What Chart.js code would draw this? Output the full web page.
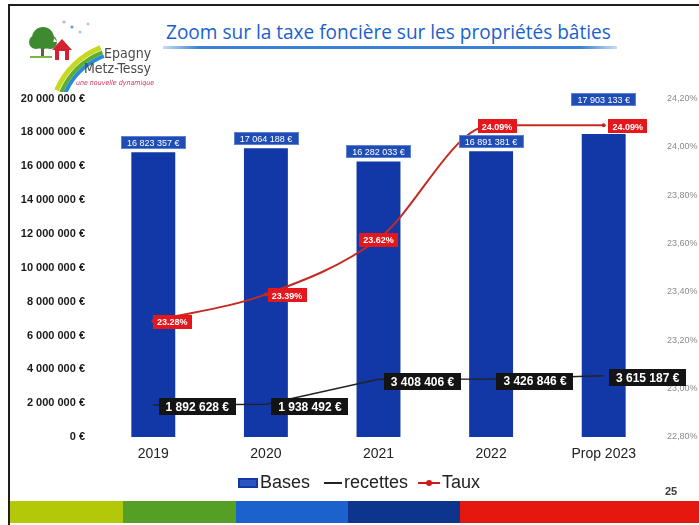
<!DOCTYPE html>
<html>
<head>
<meta charset="utf-8">
<script src="https://cdn.jsdelivr.net/npm/chart.js@4.4.0/dist/chart.umd.min.js"></script>
<style>
html, body { margin: 0; padding: 0; background: #fff; }
body { width: 699px; height: 525px; position: relative; overflow: hidden; font-family: "Liberation Sans", Arial, sans-serif; }
#logo { position: absolute; left: 0; top: 0; }
.logo-txt { position: absolute; font-family: "DejaVu Sans Condensed", "DejaVu Sans", sans-serif; color: #4a4a4a; white-space: nowrap; }
#frame-left { position: absolute; left: 8px; top: 4px; width: 2px; height: 521px; background: #1e1e1e; z-index: 5; }
#frame-top { position: absolute; left: 8px; top: 4px; width: 691px; height: 2px; background: #1e1e1e; z-index: 5; }
#title { position: absolute; left: 166px; top: 19px; font-family: "Open Sans", sans-serif; font-size: 18px; color: #1a5fd0; white-space: nowrap; }
#rule { position: absolute; left: 163px; top: 46px; width: 454px; height: 3px;
  background: linear-gradient(to right, rgba(70,140,215,0.3), #3b82d2 8%, #3b82d2 92%, rgba(70,140,215,0.3)); }
#chart-box { position: absolute; left: 0; top: 80px; width: 699px; height: 430px; }
#band { position: absolute; left: 10px; top: 501px; width: 689px; height: 22px; display: flex; z-index: 4; }
#band div { height: 100%; }
#page-no { position: absolute; left: 665px; top: 485px; font: bold 11px "Liberation Sans", Arial, sans-serif; color: #3a3a3a; }
</style>
</head>
<body>
<canvas id="logo" width="165" height="92"></canvas>
<div class="logo-txt" style="left:104px; top:45px; font-size:14px;">Epagny</div>
<div class="logo-txt" style="left:84px; top:60px; font-size:14px;">Metz-Tessy</div>
<div class="logo-txt" style="left:76px; top:79px; font-size:7px; font-style:italic; color:#d0305a;">une nouvelle dynamique</div>
<div id="frame-left"></div>
<div id="frame-top"></div>
<div id="title">Zoom sur la taxe foncière sur les propriétés bâties</div>
<div id="rule"></div>
<div id="chart-box"><canvas id="chart" width="699" height="430"></canvas></div>
<div id="band">
  <div style="width:113px; background:#b4c80a;"></div>
  <div style="width:113px; background:#55a024;"></div>
  <div style="width:112px; background:#1c62cc;"></div>
  <div style="width:112px; background:#0e358e;"></div>
  <div style="flex:1; background:#e5180f;"></div>
</div>
<div id="page-no">25</div>
<script>
// data
var categories = ["2019", "2020", "2021", "2022", "Prop 2023"];
var bases = [16823357, 17064188, 16282033, 16891381, 17903133];
var recettes = [1892628, 1938492, 3408406, 3426846, 3615187];
var taux = [23.28, 23.39, 23.62, 24.09, 24.09];

// axis ranges
var leftMin = 0, leftMax = 20000000, leftStep = 2000000;
var rightMin = 22.8, rightMax = 24.2, rightStep = 0.2;

// label placement (px)
var basesLift = [10, 10, 10, 10, 35];
var tauxShift = [19, 21, 0, 6, 24];
var recettesShift = 44;

var blue = "#1238a8";
var red = "#c42a22";

function euro(v) {
	return String(v).replace(/\B(?=(\d{3})+(?!\d))/g, " ") + " €";
}

// fit title to its width
(function () {
	var t = document.getElementById("title");
	var w = t.getBoundingClientRect().width;
	t.style.fontSize = (18 * 445 / w).toFixed(2) + "px";
})();

// logo
(function () {
	var c = document.getElementById("logo").getContext("2d");
	// rainbow
	var arcs = [["#c8d820", 5], ["#5cae2c", 4], ["#2a8ad8", 4]];
	var r = 80;
	arcs.forEach(function (a) {
		c.beginPath();
		c.strokeStyle = a[0];
		c.lineWidth = a[1];
		c.arc(130, 122, r, Math.PI * 1.13, Math.PI * 1.38);
		c.stroke();
		r -= a[1];
	});
	// tree
	c.fillStyle = "#6f5a3a";
	c.fillRect(41, 44, 3, 14);
	c.fillStyle = "#3f8a2e";
	c.beginPath();
	c.arc(43, 38, 11, 0, Math.PI * 2);
	c.arc(36, 42, 7, 0, Math.PI * 2);
	c.arc(50, 42, 7, 0, Math.PI * 2);
	c.fill();
	c.fillStyle = "#7ab648";
	c.fillRect(30, 56, 22, 2);
	// house
	c.fillStyle = "#d42030";
	c.beginPath();
	c.moveTo(52, 50); c.lineTo(62, 39); c.lineTo(72, 50); c.closePath();
	c.fill();
	c.fillRect(55, 49, 14, 11);
	c.fillStyle = "#fff";
	c.fillRect(59, 51, 6, 9);
	// dots
	[["#5aa8e0", 72, 27], ["#b0b8c0", 64, 22], ["#9fd0f0", 80, 32], ["#c8c8c8", 88, 24]].forEach(function (d) {
		c.fillStyle = d[0];
		c.beginPath();
		c.arc(d[1], d[2], 1.6, 0, Math.PI * 2);
		c.fill();
	});
})();

// legend icons: content right-aligned so it sits close to the text
function icon(w, draw) {
	var cv = document.createElement("canvas");
	cv.width = 26; cv.height = 12;
	var c = cv.getContext("2d");
	draw(c, 26 - w);
	return cv;
}
var icons = [
	icon(20, function (c, x) { c.fillStyle = blue; c.fillRect(x, 1, 20, 10); c.fillStyle = "#2a56c0"; c.fillRect(x + 2, 3, 16, 6); }),
	icon(18, function (c, x) { c.fillStyle = "#222"; c.fillRect(x, 5, 18, 2); }),
	icon(22, function (c, x) {
		c.fillStyle = "#d01818"; c.fillRect(x, 5, 22, 2);
		c.beginPath(); c.arc(x + 11, 6, 3, 0, Math.PI * 2); c.fill();
	})
];

// boxed value labels
var boxLabels = {
	id: "boxLabels",
	afterDatasetsDraw(chart) {
		var ctx = chart.ctx;
		chart.data.datasets.forEach(function (ds, i) {
			var lab = ds.boxLabel;
			if (!lab) return;
			chart.getDatasetMeta(i).data.forEach(function (el, j) {
				var text = lab.format(ds.data[j]);
				ctx.save();
				ctx.font = lab.font;
				var w = ctx.measureText(text).width + lab.padX * 2;
				var h = lab.height;
				var cx = el.x + lab.dx(j);
				var cy = el.y + lab.dy(j);
				ctx.fillStyle = lab.bg;
				ctx.fillRect(Math.round(cx - w / 2), Math.round(cy - h / 2), Math.round(w), h);
				if (lab.edge) {
					ctx.strokeStyle = lab.edge;
					ctx.lineWidth = 1;
					ctx.strokeRect(Math.round(cx - w / 2) + 0.5, Math.round(cy - h / 2) + 0.5, Math.round(w) - 1, h - 1);
				}
				ctx.fillStyle = "#fff";
				ctx.textAlign = "center";
				ctx.textBaseline = "middle";
				ctx.fillText(text, cx, cy + 1);
				ctx.restore();
			});
		});
	}
};

Chart.defaults.font.family = '"Liberation Sans", Arial, sans-serif';

var chart = new Chart(document.getElementById("chart"), {
	data: {
		labels: categories,
		datasets: [
			{
				type: "bar",
				label: "Bases",
				data: bases,
				backgroundColor: blue,
				barPercentage: 0.39,
				categoryPercentage: 1,
				yAxisID: "y",
				order: 3,
				boxLabel: {
					format: euro, font: "9px 'Liberation Sans', Arial", padX: 6, height: 13,
					bg: "#1f4db5", edge: "#5c82d4",
					dx: function () { return 0; },
					dy: function (j) { return -basesLift[j]; }
				}
			},
			{
				type: "line",
				label: "recettes",
				data: recettes,
				borderColor: "#222",
				borderWidth: 1.5,
				pointRadius: 0,
				tension: 0,
				yAxisID: "y",
				order: 2,
				boxLabel: {
					format: euro, font: "bold 12px 'Liberation Sans', Arial", padX: 7, height: 17,
					bg: "#141414",
					dx: function () { return recettesShift; },
					dy: function () { return 2; }
				}
			},
			{
				type: "line",
				label: "Taux",
				data: taux,
				borderColor: red,
				borderWidth: 2,
				cubicInterpolationMode: "monotone",
				pointRadius: 2,
				pointBackgroundColor: red,
				pointBorderWidth: 0,
				yAxisID: "y1",
				order: 1,
				boxLabel: {
					format: function (v) { return v.toFixed(2) + "%"; },
					font: "bold 9px 'Liberation Sans', Arial", padX: 4, height: 14,
					bg: "#e3171c",
					dx: function (j) { return tauxShift[j]; },
					dy: function () { return 1; }
				}
			}
		]
	},
	options: {
		responsive: false,
		animation: false,
		layout: { padding: { left: 20, right: 0, top: 14, bottom: 8 } },
		plugins: {
			tooltip: { enabled: false },
			legend: {
				position: "bottom",
				labels: {
					usePointStyle: true,
					pointStyleWidth: 12,
					padding: 13,
					color: "#222",
					font: { size: 18 },
					sort: function (a, b) { return a.datasetIndex - b.datasetIndex; },
					generateLabels: function (chart) {
						var items = Chart.defaults.plugins.legend.labels.generateLabels(chart);
						items.forEach(function (it) { it.pointStyle = icons[it.datasetIndex]; });
						return items;
					}
				}
			}
		},
		scales: {
			x: {
				grid: { display: false, drawTicks: false },
				border: { display: false },
				ticks: { color: "#222", font: { size: 14 }, padding: 9 },
				afterFit: function (s) { s.height = 24; }
			},
			y: {
				position: "left",
				min: leftMin, max: leftMax,
				grid: { display: false, drawTicks: false },
				border: { display: false },
				ticks: {
					stepSize: leftStep, padding: 12, color: "#1a1a1a",
					font: { size: 11, weight: "bold" },
					callback: function (v) { return euro(v); }
				},
				afterFit: function (s) { s.width = 77; }
			},
			y1: {
				position: "right",
				min: rightMin, max: rightMax,
				grid: { display: false, drawTicks: false },
				border: { display: false },
				ticks: {
					stepSize: rightStep, padding: 7, color: "#8a8a8a",
					font: { size: 9 },
					callback: function (v) { return v.toFixed(2).replace(".", ",") + "%"; }
				},
				afterFit: function (s) { s.width = 39; }
			}
		}
	},
	plugins: [boxLabels]
});
</script>
</body>
</html>
